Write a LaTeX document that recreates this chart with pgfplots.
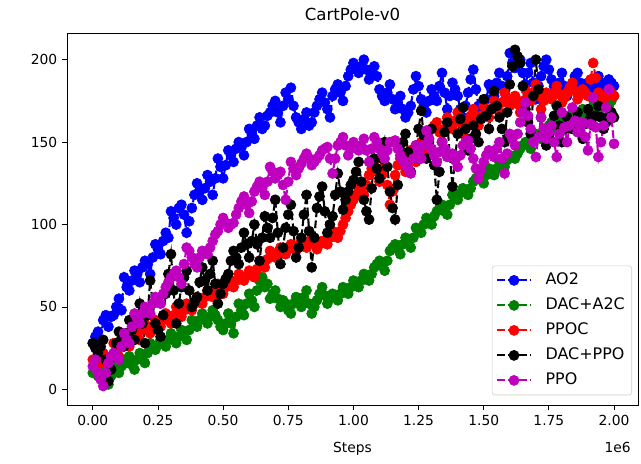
\documentclass[border=0pt]{standalone}
\usepackage{fontspec}
\setmainfont{DejaVu Sans}
\usepackage{pgfplots}
\pgfplotsset{compat=1.18}
\definecolor{mplb}{rgb}{0,0,1}
\definecolor{mplg}{rgb}{0,0.5,0}
\definecolor{mplr}{rgb}{1,0,0}
\definecolor{mplk}{rgb}{0,0,0}
\definecolor{mplm}{rgb}{0.75,0,0.75}
\pgfplotsset{
  ser/.style={color=#1, line width=1.5bp, dash pattern=on 5.55bp off 2.4bp,
    mark=*, mark size=3.6bp, mark options={solid, fill=#1, draw=#1, line width=0.5bp}},
}
\begin{document}
\begin{tikzpicture}
\begin{axis}[name=ax, scale only axis, width=411bp, height=268bp,
  xmin=-0.099, xmax=2.092, ymin=-9.7, ymax=216.2,
  xtick={0,0.25,0.5,0.75,1,1.25,1.5,1.75,2},
  xticklabels={0.00,0.25,0.50,0.75,1.00,1.25,1.50,1.75,2.00},
  ytick={0,50,100,150,200},
  tick align=outside, xtick pos=bottom, ytick pos=left,
  major tick length=3.5bp,
  every tick/.style={black, line width=0.6bp},
  axis line style={line width=0.6bp, black},
  /pgf/number format/assume math mode=true,
  tick label style={font=\fontsize{10}{12}\selectfont},
  xlabel={Steps}, xlabel style={font=\fontsize{10}{12}\selectfont, yshift=-5bp},
  title={CartPole-v0}, title style={font=\fontsize{12}{14}\selectfont, yshift=-1bp},
  legend cell align=left,
  legend style={at={(0.9895,0.027)}, anchor=south east, draw=black!20, rounded corners=2bp,
    fill=white, font=\fontsize{11.5}{13}\selectfont, row sep=3bp, inner sep=3bp,
    nodes={inner sep=2bp, text height=8.5bp, text depth=2.5bp},
    /tikz/every odd column/.append style={column sep=8bp}},
  legend image code/.code={
    \draw[#1] (0bp,0bp) -- (24bp,0bp);
    \draw[#1, only marks] plot coordinates {(12bp,0bp)};
  },
]
\addplot[ser=mplb] coordinates {(0.00,28)(0.01,32)(0.02,35)(0.03,30)(0.04,42)(0.05,45)(0.06,38)(0.07,44)(0.08,45)(0.09,50)(0.10,55)(0.11,48)(0.12,68)(0.13,62)(0.14,60)(0.15,66)(0.16,72)(0.17,70)(0.18,65)(0.19,74)(0.20,78)(0.21,76)(0.22,70)(0.23,80)(0.24,88)(0.25,85)(0.26,82)(0.27,90)(0.28,95)(0.29,92)(0.30,108)(0.31,104)(0.32,100)(0.33,110)(0.34,112)(0.35,106)(0.36,95)(0.37,102)(0.38,110)(0.39,118)(0.40,125)(0.41,120)(0.42,115)(0.43,122)(0.44,130)(0.45,126)(0.46,118)(0.47,128)(0.48,140)(0.49,135)(0.50,128)(0.51,136)(0.52,145)(0.53,142)(0.54,138)(0.55,146)(0.56,150)(0.57,148)(0.58,142)(0.59,150)(0.60,158)(0.61,155)(0.62,152)(0.63,160)(0.64,165)(0.65,158)(0.66,160)(0.67,166)(0.68,168)(0.69,172)(0.70,175)(0.71,168)(0.72,162)(0.73,172)(0.74,180)(0.75,176)(0.76,183)(0.77,172)(0.78,165)(0.79,162)(0.80,158)(0.81,164)(0.82,168)(0.83,160)(0.84,162)(0.85,168)(0.86,172)(0.87,176)(0.88,180)(0.89,174)(0.90,170)(0.91,165)(0.92,178)(0.93,182)(0.94,185)(0.95,180)(0.96,175)(0.97,184)(0.98,190)(0.99,194)(1.00,198)(1.01,195)(1.02,192)(1.03,196)(1.04,200)(1.05,194)(1.06,188)(1.07,192)(1.08,196)(1.09,190)(1.10,182)(1.11,178)(1.12,175)(1.13,180)(1.14,185)(1.15,176)(1.16,170)(1.17,174)(1.18,178)(1.19,170)(1.20,165)(1.21,168)(1.22,172)(1.23,182)(1.24,190)(1.25,184)(1.26,176)(1.27,172)(1.28,168)(1.29,175)(1.30,182)(1.31,178)(1.32,175)(1.33,184)(1.34,192)(1.35,180)(1.36,170)(1.37,178)(1.38,186)(1.39,182)(1.40,178)(1.41,170)(1.42,165)(1.43,172)(1.44,180)(1.45,188)(1.46,194)(1.47,182)(1.48,172)(1.49,170)(1.50,168)(1.51,176)(1.52,185)(1.53,182)(1.54,178)(1.55,186)(1.56,192)(1.57,184)(1.58,175)(1.59,190)(1.60,204)(1.61,198)(1.62,195)(1.63,198)(1.64,200)(1.65,192)(1.66,185)(1.67,192)(1.68,198)(1.69,186)(1.70,176)(1.71,184)(1.72,190)(1.73,196)(1.74,200)(1.75,194)(1.76,188)(1.77,184)(1.78,180)(1.79,186)(1.80,192)(1.81,184)(1.82,178)(1.83,182)(1.84,185)(1.85,190)(1.86,192)(1.87,186)(1.88,180)(1.89,184)(1.90,186)(1.91,180)(1.92,176)(1.93,184)(1.94,190)(1.95,186)(1.96,182)(1.97,186)(1.98,188)(1.99,186)(2.00,184)};
\addlegendentry{AO2}
\addplot[ser=mplg] coordinates {(0.00,10)(0.01,12)(0.02,8)(0.03,10)(0.04,12)(0.05,6)(0.06,3)(0.07,8)(0.08,15)(0.09,12)(0.10,10)(0.11,14)(0.12,18)(0.13,16)(0.14,20)(0.15,15)(0.16,12)(0.17,18)(0.18,22)(0.19,18)(0.20,16)(0.21,22)(0.22,28)(0.23,25)(0.24,24)(0.25,27)(0.26,30)(0.27,28)(0.28,26)(0.29,30)(0.30,34)(0.31,30)(0.32,28)(0.33,32)(0.34,36)(0.35,32)(0.36,30)(0.37,36)(0.38,42)(0.39,40)(0.40,38)(0.41,42)(0.42,46)(0.43,44)(0.44,40)(0.45,44)(0.46,48)(0.47,45)(0.48,42)(0.49,38)(0.50,36)(0.51,40)(0.52,46)(0.53,40)(0.54,34)(0.55,44)(0.56,52)(0.57,48)(0.58,45)(0.59,52)(0.60,58)(0.61,54)(0.62,50)(0.63,60)(0.64,66)(0.65,68)(0.66,62)(0.67,64)(0.68,55)(0.69,58)(0.70,60)(0.71,55)(0.72,50)(0.73,54)(0.74,52)(0.75,48)(0.76,46)(0.77,52)(0.78,56)(0.79,53)(0.80,50)(0.81,56)(0.82,60)(0.83,52)(0.84,46)(0.85,50)(0.86,54)(0.87,58)(0.88,62)(0.89,57)(0.90,52)(0.91,55)(0.92,58)(0.93,56)(0.94,54)(0.95,58)(0.96,62)(0.97,60)(0.98,58)(0.99,62)(1.00,66)(1.01,64)(1.02,62)(1.03,66)(1.04,70)(1.05,68)(1.06,66)(1.07,70)(1.08,74)(1.09,76)(1.10,78)(1.11,75)(1.12,72)(1.13,78)(1.14,84)(1.15,86)(1.16,88)(1.17,85)(1.18,82)(1.19,88)(1.20,92)(1.21,89)(1.22,86)(1.23,92)(1.24,98)(1.25,96)(1.26,95)(1.27,100)(1.28,104)(1.29,102)(1.30,100)(1.31,105)(1.32,108)(1.33,110)(1.34,112)(1.35,108)(1.36,106)(1.37,112)(1.38,118)(1.39,116)(1.40,115)(1.41,119)(1.42,122)(1.43,120)(1.44,118)(1.45,122)(1.46,126)(1.47,128)(1.48,130)(1.49,127)(1.50,125)(1.51,130)(1.52,134)(1.53,132)(1.54,130)(1.55,134)(1.56,138)(1.57,136)(1.58,135)(1.59,139)(1.60,142)(1.61,141)(1.62,140)(1.63,143)(1.64,146)(1.65,148)(1.66,150)(1.67,148)(1.68,146)(1.69,151)(1.70,155)(1.71,153)(1.72,152)(1.73,155)(1.74,158)(1.75,160)(1.76,162)(1.77,160)(1.78,158)(1.79,162)(1.80,165)(1.81,162)(1.82,160)(1.83,164)(1.84,168)(1.85,166)(1.86,164)(1.87,167)(1.88,170)(1.89,168)(1.90,166)(1.91,169)(1.92,172)(1.93,170)(1.94,168)(1.95,172)(1.96,175)(1.97,174)(1.98,172)(1.99,175)(2.00,178)};
\addlegendentry{DAC+A2C}
\addplot[ser=mplr] coordinates {(0.00,18)(0.01,14)(0.02,10)(0.03,16)(0.04,22)(0.05,18)(0.06,14)(0.07,20)(0.08,28)(0.09,24)(0.10,20)(0.11,26)(0.12,32)(0.13,30)(0.14,26)(0.15,31)(0.16,36)(0.17,34)(0.18,30)(0.19,36)(0.20,40)(0.21,38)(0.22,34)(0.23,38)(0.24,42)(0.25,40)(0.26,38)(0.27,42)(0.28,46)(0.29,43)(0.30,40)(0.31,45)(0.32,50)(0.33,47)(0.34,44)(0.35,48)(0.36,52)(0.37,50)(0.38,48)(0.39,52)(0.40,56)(0.41,54)(0.42,52)(0.43,56)(0.44,60)(0.45,58)(0.46,56)(0.47,60)(0.48,64)(0.49,61)(0.50,58)(0.51,62)(0.52,66)(0.53,64)(0.54,62)(0.55,66)(0.56,70)(0.57,68)(0.58,66)(0.59,69)(0.60,72)(0.61,70)(0.62,68)(0.63,73)(0.64,78)(0.65,76)(0.66,74)(0.67,79)(0.68,84)(0.69,82)(0.70,80)(0.71,83)(0.72,86)(0.73,84)(0.74,82)(0.75,85)(0.76,88)(0.77,86)(0.78,84)(0.79,87)(0.80,90)(0.81,88)(0.82,86)(0.83,89)(0.84,92)(0.85,88)(0.86,85)(0.87,88)(0.88,90)(0.89,89)(0.90,88)(0.91,92)(0.92,96)(0.93,94)(0.94,92)(0.95,96)(0.96,100)(0.97,104)(0.98,108)(0.99,112)(1.00,115)(1.01,118)(1.02,122)(1.03,120)(1.04,118)(1.05,124)(1.06,130)(1.07,134)(1.08,138)(1.09,132)(1.10,126)(1.11,130)(1.12,135)(1.13,124)(1.14,112)(1.15,120)(1.16,130)(1.17,136)(1.18,140)(1.19,136)(1.20,132)(1.21,138)(1.22,145)(1.23,142)(1.24,138)(1.25,144)(1.26,150)(1.27,148)(1.28,145)(1.29,152)(1.30,158)(1.31,160)(1.32,162)(1.33,156)(1.34,150)(1.35,158)(1.36,165)(1.37,162)(1.38,158)(1.39,163)(1.40,168)(1.41,162)(1.42,155)(1.43,158)(1.44,162)(1.45,166)(1.46,170)(1.47,165)(1.48,160)(1.49,166)(1.50,172)(1.51,168)(1.52,165)(1.53,170)(1.54,175)(1.55,172)(1.56,168)(1.57,174)(1.58,180)(1.59,176)(1.60,172)(1.61,175)(1.62,178)(1.63,173)(1.64,168)(1.65,175)(1.66,182)(1.67,178)(1.68,175)(1.69,180)(1.70,185)(1.71,178)(1.72,170)(1.73,175)(1.74,180)(1.75,178)(1.76,176)(1.77,180)(1.78,184)(1.79,179)(1.80,174)(1.81,177)(1.82,180)(1.83,183)(1.84,186)(1.85,181)(1.86,176)(1.87,179)(1.88,182)(1.89,180)(1.90,178)(1.91,188)(1.92,198)(1.93,189)(1.94,180)(1.95,178)(1.96,175)(1.97,178)(1.98,182)(1.99,180)(2.00,178)};
\addlegendentry{PPOC}
\addplot[ser=mplk] coordinates {(0.00,28)(0.01,25)(0.02,22)(0.03,26)(0.04,30)(0.05,18)(0.06,5)(0.07,12)(0.08,20)(0.09,28)(0.10,35)(0.11,30)(0.12,26)(0.13,34)(0.14,42)(0.15,36)(0.16,30)(0.17,40)(0.18,52)(0.19,40)(0.20,28)(0.21,45)(0.22,66)(0.23,52)(0.24,40)(0.25,36)(0.26,32)(0.27,45)(0.28,58)(0.29,70)(0.30,82)(0.31,60)(0.32,40)(0.33,52)(0.34,62)(0.35,68)(0.36,72)(0.37,60)(0.38,50)(0.39,53)(0.40,56)(0.41,65)(0.42,74)(0.43,66)(0.44,60)(0.45,70)(0.46,78)(0.47,64)(0.48,52)(0.49,58)(0.50,64)(0.51,67)(0.52,70)(0.53,78)(0.54,84)(0.55,80)(0.56,76)(0.57,86)(0.58,95)(0.59,88)(0.60,80)(0.61,90)(0.62,100)(0.63,88)(0.64,78)(0.65,92)(0.66,105)(0.67,98)(0.68,92)(0.69,104)(0.70,115)(0.71,95)(0.72,76)(0.73,86)(0.74,98)(0.75,106)(0.76,112)(0.77,96)(0.78,80)(0.79,86)(0.80,92)(0.81,106)(0.82,118)(0.83,96)(0.84,74)(0.85,92)(0.86,110)(0.87,117)(0.88,123)(0.89,108)(0.90,95)(0.91,100)(0.92,105)(0.93,118)(0.94,131)(0.95,120)(0.96,109)(0.97,115)(0.98,120)(0.99,124)(1.00,127)(1.01,132)(1.02,138)(1.03,126)(1.04,115)(1.05,108)(1.06,103)(1.07,122)(1.08,140)(1.09,134)(1.10,128)(1.11,140)(1.12,150)(1.13,135)(1.14,120)(1.15,110)(1.16,103)(1.17,124)(1.18,145)(1.19,150)(1.20,155)(1.21,144)(1.22,132)(1.23,140)(1.24,148)(1.25,158)(1.26,169)(1.27,154)(1.28,140)(1.29,150)(1.30,158)(1.31,136)(1.32,115)(1.33,132)(1.34,150)(1.35,156)(1.36,162)(1.37,142)(1.38,123)(1.39,140)(1.40,155)(1.41,164)(1.42,171)(1.43,158)(1.44,145)(1.45,152)(1.46,160)(1.47,155)(1.48,150)(1.49,164)(1.50,176)(1.51,166)(1.52,158)(1.53,170)(1.54,181)(1.55,172)(1.56,165)(1.57,158)(1.58,150)(1.59,168)(1.60,185)(1.61,196)(1.62,206)(1.63,202)(1.64,198)(1.65,184)(1.66,170)(1.67,162)(1.68,155)(1.69,178)(1.70,200)(1.71,182)(1.72,165)(1.73,156)(1.74,148)(1.75,154)(1.76,160)(1.77,166)(1.78,172)(1.79,160)(1.80,150)(1.81,158)(1.82,165)(1.83,162)(1.84,158)(1.85,163)(1.86,168)(1.87,160)(1.88,152)(1.89,161)(1.90,170)(1.91,165)(1.92,160)(1.93,166)(1.94,172)(1.95,165)(1.96,158)(1.97,162)(1.98,165)(1.99,168)(2.00,165)};
\addlegendentry{DAC+PPO}
\addplot[ser=mplm] coordinates {(0.00,14)(0.01,18)(0.02,10)(0.03,6)(0.04,2)(0.05,10)(0.06,16)(0.07,20)(0.08,22)(0.09,20)(0.10,18)(0.11,26)(0.12,34)(0.13,30)(0.14,28)(0.15,38)(0.16,46)(0.17,43)(0.18,40)(0.19,46)(0.20,50)(0.21,48)(0.22,46)(0.23,52)(0.24,56)(0.25,54)(0.26,52)(0.27,58)(0.28,62)(0.29,65)(0.30,68)(0.31,70)(0.32,72)(0.33,68)(0.34,64)(0.35,76)(0.36,86)(0.37,84)(0.38,80)(0.39,76)(0.40,74)(0.41,80)(0.42,84)(0.43,83)(0.44,82)(0.45,86)(0.46,90)(0.47,94)(0.48,96)(0.49,100)(0.50,104)(0.51,101)(0.52,98)(0.53,100)(0.54,101)(0.55,106)(0.56,110)(0.57,114)(0.58,117)(0.59,112)(0.60,107)(0.61,114)(0.62,120)(0.63,123)(0.64,126)(0.65,122)(0.66,118)(0.67,126)(0.68,135)(0.69,132)(0.70,128)(0.71,130)(0.72,132)(0.73,124)(0.74,115)(0.75,126)(0.76,138)(0.77,134)(0.78,130)(0.79,134)(0.80,137)(0.81,140)(0.82,143)(0.83,140)(0.84,136)(0.85,138)(0.86,140)(0.87,142)(0.88,145)(0.89,146)(0.90,147)(0.91,140)(0.92,131)(0.93,140)(0.94,148)(0.95,150)(0.96,153)(0.97,148)(0.98,142)(0.99,146)(1.00,150)(1.01,148)(1.02,145)(1.03,148)(1.04,152)(1.05,145)(1.06,138)(1.07,146)(1.08,153)(1.09,150)(1.10,146)(1.11,143)(1.12,140)(1.13,145)(1.14,150)(1.15,150)(1.16,151)(1.17,146)(1.18,142)(1.19,139)(1.20,136)(1.21,134)(1.22,131)(1.23,140)(1.24,148)(1.25,144)(1.26,140)(1.27,148)(1.28,157)(1.29,152)(1.30,146)(1.31,142)(1.32,138)(1.33,144)(1.34,150)(1.35,146)(1.36,141)(1.37,142)(1.38,143)(1.39,139)(1.40,135)(1.41,142)(1.42,148)(1.43,150)(1.44,151)(1.45,146)(1.46,140)(1.47,134)(1.48,128)(1.49,133)(1.50,138)(1.51,142)(1.52,145)(1.53,143)(1.54,141)(1.55,146)(1.56,150)(1.57,140)(1.58,131)(1.59,143)(1.60,155)(1.61,152)(1.62,148)(1.63,155)(1.64,162)(1.65,168)(1.66,174)(1.67,166)(1.68,158)(1.69,150)(1.70,141)(1.71,153)(1.72,165)(1.73,158)(1.74,152)(1.75,156)(1.76,160)(1.77,150)(1.78,141)(1.79,155)(1.80,168)(1.81,159)(1.82,150)(1.83,160)(1.84,171)(1.85,163)(1.86,156)(1.87,159)(1.88,162)(1.89,153)(1.90,145)(1.91,161)(1.92,177)(1.93,159)(1.94,141)(1.95,150)(1.96,160)(1.97,171)(1.98,182)(1.99,165)(2.00,149)};
\addlegendentry{PPO}
\end{axis}
\node[anchor=east, font=\fontsize{10}{12}\selectfont, inner sep=0pt] at ([xshift=-5bp, yshift=-30bp]ax.south east) {1e6};
\pgfresetboundingbox
\path ([xshift=-48.24bp,yshift=-41.76bp]ax.south west) rectangle ([xshift=2.16bp,yshift=23.76bp]ax.north east);
\end{tikzpicture}
\end{document}
